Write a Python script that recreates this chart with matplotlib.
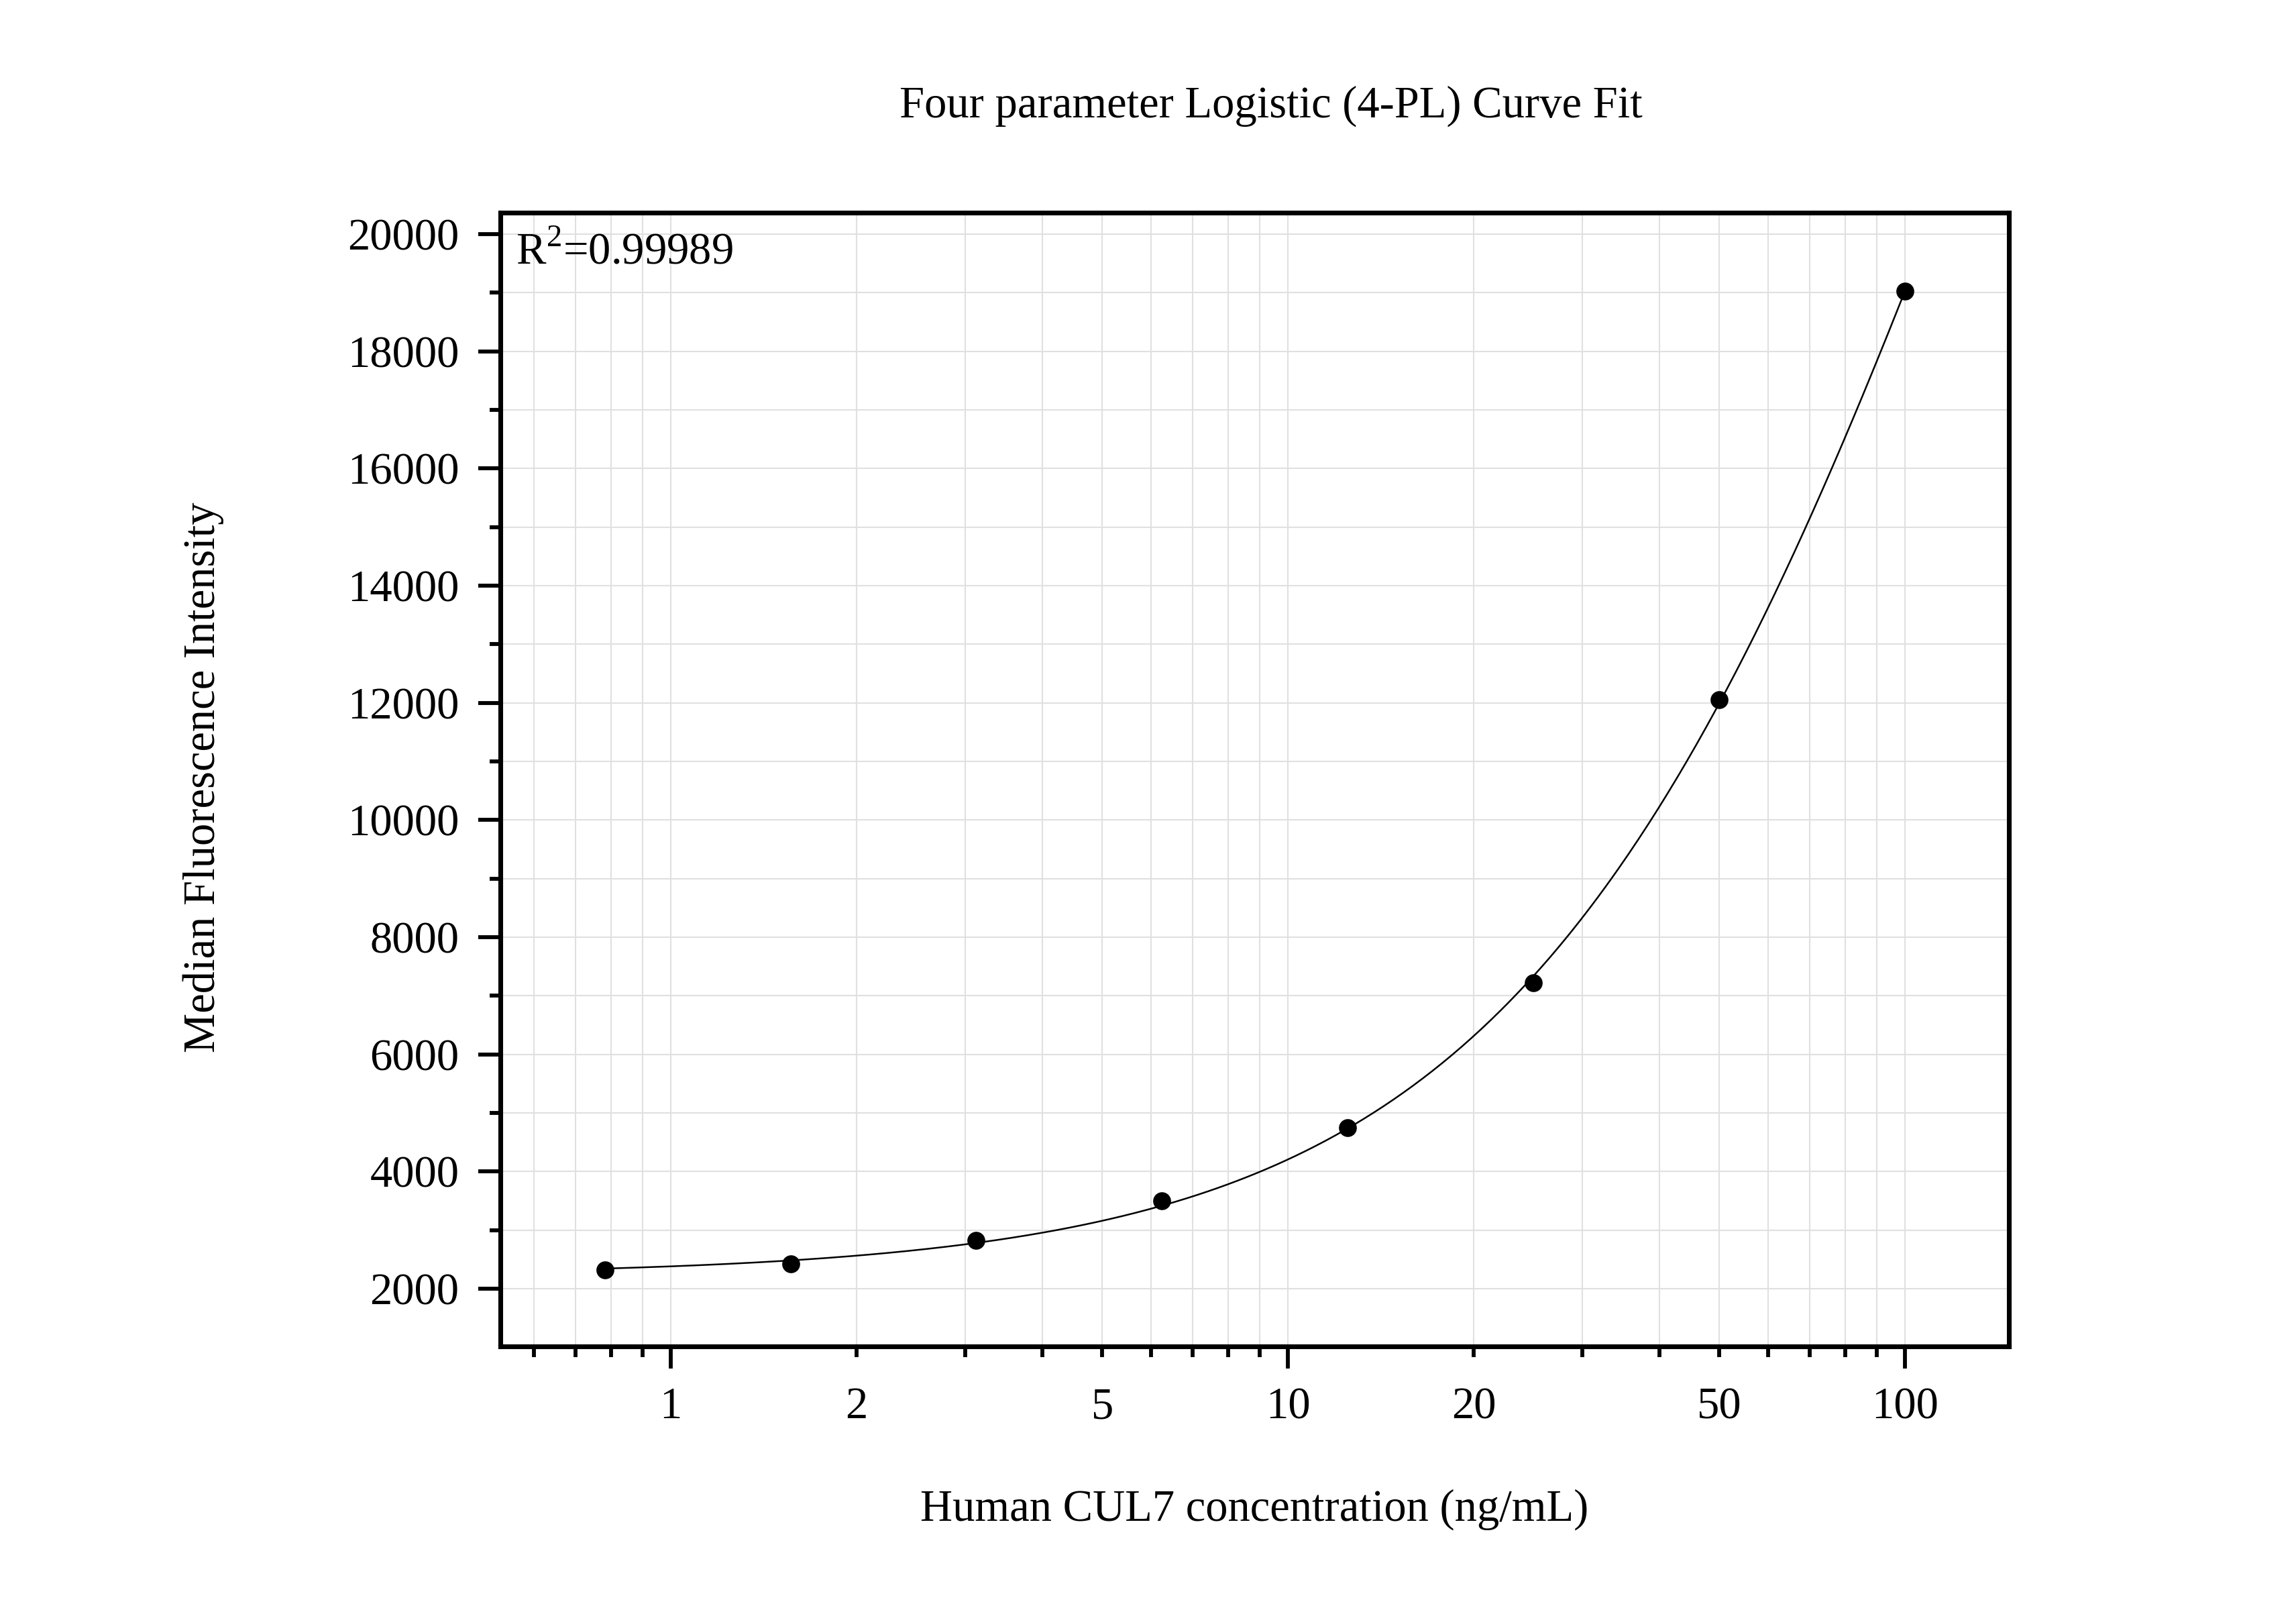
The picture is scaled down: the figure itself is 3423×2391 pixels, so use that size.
import numpy as np
import matplotlib
matplotlib.use("Agg")
import matplotlib.pyplot as plt
from matplotlib.ticker import FixedLocator, FuncFormatter, MultipleLocator

# data
conc = [0.78125, 1.5625, 3.125, 6.25, 12.5, 25, 50, 100]
mfi = [2325, 2425, 2825, 3500, 4750, 7225, 12050, 19025]

title = "Four parameter Logistic (4-PL) Curve Fit"
xlabel = "Human CUL7 concentration (ng/mL)"
ylabel = "Median Fluorescence Intensity"
r2_text = r"R$^{\mathrm{2}}$=0.99989"

x_major = [1, 10, 100]
x_labeled_minor = [2, 5, 20, 50]
y_major = np.arange(2000, 20001, 2000)

plt.rcParams['font.family'] = ['Liberation Serif', 'DejaVu Serif']
plt.rcParams['mathtext.fontset'] = 'custom'
plt.rcParams['mathtext.rm'] = 'Liberation Serif'


def fit_4pl(x, y):
    # grid over C and B, A/D solved linearly for each pair
    x = np.asarray(x, float)
    y = np.asarray(y, float)
    best = None
    for logc in np.linspace(0, 4, 401):
        c = 10 ** logc
        for b in np.linspace(0.5, 4, 351):
            g = 1.0 / (1.0 + (x / c) ** b)
            M = np.column_stack([g, 1 - g])
            coef, *_ = np.linalg.lstsq(M, y, rcond=None)
            err = np.sum((M @ coef - y) ** 2)
            if best is None or err < best[0]:
                best = (err, coef[0], b, c, coef[1])
    return best[1:]


A, B, C, D = fit_4pl(conc, mfi)
xs = np.logspace(np.log10(conc[0]), np.log10(conc[-1]), 400)
ys = D + (A - D) / (1 + (xs / C) ** B)

fig = plt.figure(figsize=(11.41, 7.97), dpi=300)
ax = fig.add_axes([0.2179, 0.1606, 0.8750 - 0.2179, 0.8674 - 0.1606])

ax.set_xscale('log')
ax.set_xlim(0.529, 147.4)
ax.set_ylim(1015, 20366)

ax.plot(xs, ys, color='black', lw=0.6, zorder=3)
ax.plot(conc, mfi, 'o', color='black', ms=5.4, zorder=4)

ax.xaxis.set_major_locator(FixedLocator(x_major))
ax.xaxis.set_major_formatter(FuncFormatter(lambda v, p: "%g" % v))
minors = [m * 10.0 ** e for e in (-1, 0, 1, 2) for m in range(2, 10)]
minors = [m for m in minors if 0.529 <= m <= 147.4]
ax.xaxis.set_minor_locator(FixedLocator(minors))
ax.xaxis.set_minor_formatter(FuncFormatter(
    lambda v, p: "%g" % v if any(abs(v - t) < 1e-6 for t in x_labeled_minor) else ""))

ax.yaxis.set_major_locator(FixedLocator(y_major))
ax.yaxis.set_minor_locator(MultipleLocator(1000))

ax.grid(True, which='both', color='#e0e0e0', lw=0.5, zorder=0)
ax.set_axisbelow(True)

for s in ax.spines.values():
    s.set_linewidth(1.7)

ax.tick_params(which='major', direction='out', length=8.0, width=1.4, labelsize=16)
ax.tick_params(which='minor', direction='out', length=3.9, width=1.4, labelsize=16)
ax.tick_params(axis='y', which='major', pad=6.7)
ax.tick_params(axis='x', which='major', pad=6.4)
ax.tick_params(axis='x', which='minor', pad=10.5)

ax.text(0.0102, 0.983, r2_text, transform=ax.transAxes, ha='left', va='top', fontsize=16)

fig.text(0.5536, 0.934, title, ha='center', va='center', fontsize=16)
fig.text(0.5463, 0.059, xlabel, ha='center', va='center', fontsize=16)
fig.text(0.0885, 0.5155, ylabel, ha='center', va='center', rotation=90, fontsize=16)

fig.savefig("out.png", dpi=300)
